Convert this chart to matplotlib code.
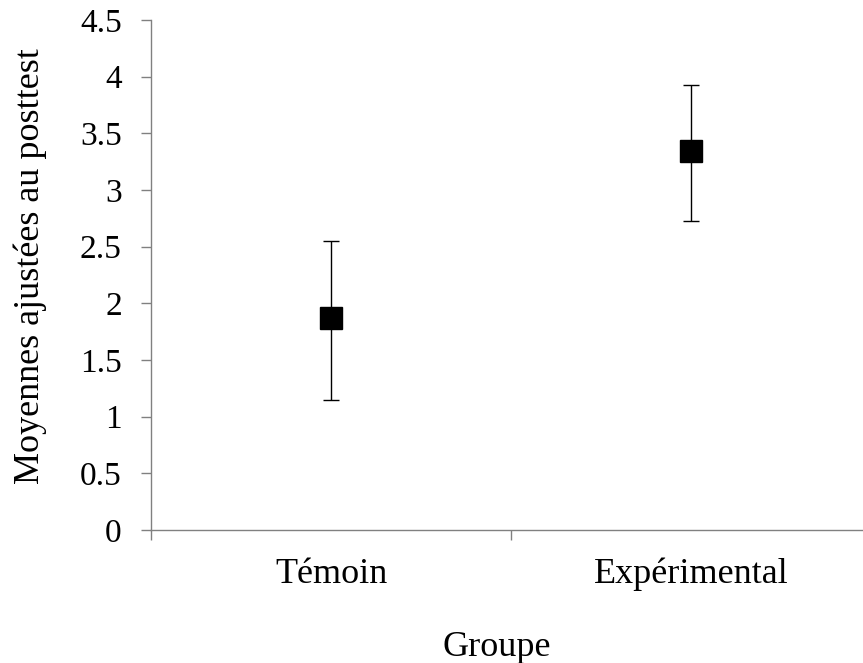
import matplotlib
matplotlib.use("Agg")
import matplotlib.pyplot as plt
import numpy as np

categories = ["Témoin", "Expérimental"]
means = [1.87, 3.34]
upper = [2.55, 3.93]
lower = [1.15, 2.73]
yticks = [0, 0.5, 1, 1.5, 2, 2.5, 3, 3.5, 4, 4.5]
ytick_labels = ["0", "0.5", "1", "1.5", "2", "2.5", "3", "3.5", "4", "4.5"]

plt.rcParams['font.family'] = ['Liberation Serif', 'DejaVu Serif']

W, H = 863, 663
fig = plt.figure(figsize=(W / 100, H / 100), dpi=100)
ax = fig.add_axes([151 / W, 1 - 530 / H, (871 - 151) / W, (530 - 20) / H])

x = np.arange(len(categories))
m = np.array(means)
yerr = np.array([m - np.array(lower), np.array(upper) - m])
ax.errorbar(x, m, yerr=yerr, fmt='s', color='black', ecolor='black',
            elinewidth=1.0, capsize=5.5, capthick=1.0, markersize=16,
            markeredgecolor='black', markerfacecolor='black', zorder=3)

ax.set_xlim(-0.5, 1.5)
ax.set_ylim(0, 4.5)
ax.set_yticks(yticks)
ax.set_yticklabels(ytick_labels, fontsize=24)
ax.set_xticks(x)
ax.set_xticklabels(categories, fontsize=26)
ax.set_xticks([-0.5, 0.5, 1.5], minor=True)

for s in ['top', 'right']:
    ax.spines[s].set_visible(False)
for s in ['left', 'bottom']:
    ax.spines[s].set_color('#808080')
    ax.spines[s].set_linewidth(1.0)

ax.tick_params(axis='y', which='major', direction='out', length=7, width=1,
               color='#808080', pad=14)
ax.tick_params(axis='x', which='major', length=0, pad=20)
ax.tick_params(axis='x', which='minor', direction='out', length=7, width=1,
               color='#808080')

fig.text(497 / W, 1 - 647 / H, "Groupe", ha='center', va='center', fontsize=26)
fig.text(30 / W, 1 - 266 / H, "Moyennes ajustées au posttest", ha='center',
         va='center', rotation=90, fontsize=26)

fig.savefig("out.png", dpi=100)
